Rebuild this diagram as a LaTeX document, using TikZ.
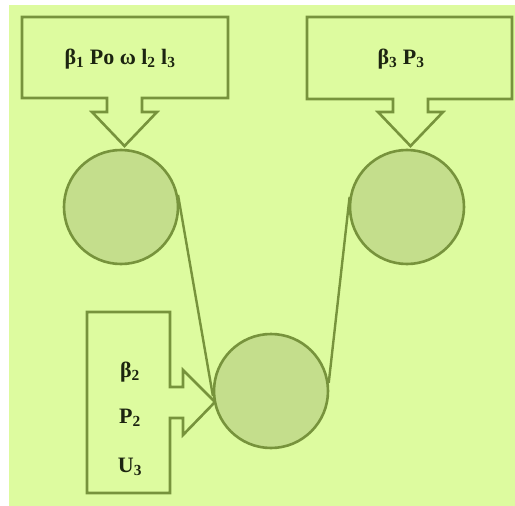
\documentclass[tikz,border=0pt]{standalone}
\usepackage{fontspec}
\setmainfont{Liberation Serif}
\usetikzlibrary{positioning}
\definecolor{Meadow}{HTML}{DDFB9F}
\definecolor{Olive}{HTML}{77933C}
\definecolor{Sage}{HTML}{C4DE8C}
\definecolor{Ink}{HTML}{1C2410}
\tikzset{
  pulley/.style={
    circle, draw=Olive, line width=2.6pt, fill=Sage,
    minimum size=114pt, inner sep=0pt
  },
  callout/.style={draw=Olive, line width=2.6pt, fill=Meadow, line join=miter},
  belt/.style={draw=Olive, line width=2.4pt},
  lbl/.style={text=Ink, font=\fontsize{22}{26}\selectfont\bfseries, inner sep=0pt}
}

\begin{document}
\begin{tikzpicture}[x=1pt,y=-1pt]
    \useasboundingbox (0,0) rectangle (515,506);
    \fill[white] (0,0) rectangle (515,506);
    \fill[Meadow] (9,5) rectangle (515,506);
    % callouts
    \draw[callout] (22,17) -- (228,17) -- (228,98) -- (142,98) -- (142,112) -- (157,112)
      -- (124.5,146) -- (92,112) -- (107,112) -- (107,98) -- (22,98) -- cycle;
    \draw[callout] (307,17) -- (512,17) -- (512,99) -- (428,99) -- (428,112) -- (443,112)
      -- (410.5,146) -- (378,112) -- (393,112) -- (393,99) -- (307,99) -- cycle;
    \draw[callout] (87,312) -- (170,312) -- (170,387) -- (183,387) -- (183,370)
      -- (215,402) -- (183,435) -- (183,418) -- (170,418) -- (170,493) -- (87,493) -- cycle;
    % pulleys
    \node[pulley] (left) at (121,207) {};
    \node[pulley] (right) at (407,207) {};
    \node[pulley] (bottom) at (271,391) {};
    \draw[belt] (left.12) -- (bottom.185);
    \draw[belt] (right.170) -- (bottom.8);
    % labels
    \node[lbl] (inleft) at (120,59) {β\textsubscript{1} Po ω l\textsubscript{2} l\textsubscript{3}};
    \node[lbl] (inright) at (401,59) {β\textsubscript{3} P\textsubscript{3}};
    \node[lbl] (beta2) at (130,372) {β\textsubscript{2}};
    \node[lbl,below=46pt of beta2.center,anchor=center] (p2) {P\textsubscript{2}};
    \node[lbl,below=49pt of p2.center,anchor=center] (u3) {U\textsubscript{3}};
\end{tikzpicture}
\end{document}
